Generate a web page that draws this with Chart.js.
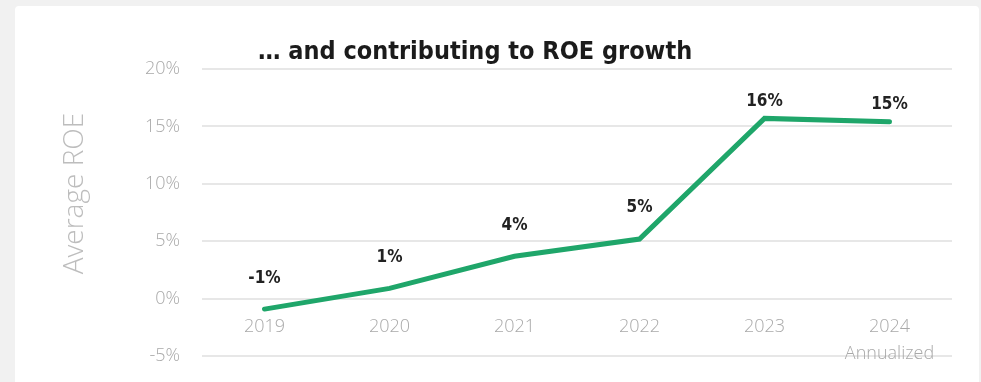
<!DOCTYPE html>
<html>
<head>
<meta charset="utf-8">
<script src="https://cdn.jsdelivr.net/npm/chart.js@4"></script>
<style>
  html, body { margin: 0; padding: 0; background: #f1f1f1; overflow: hidden; }
  #card {
    position: absolute; left: 15px; top: 6px; width: 964px; height: 400px;
    background: #fff; border-radius: 4px;
  }
  #wrap { position: absolute; left: 0; top: 0; width: 964px; height: 383px; }
</style>
</head>
<body>
<div id="card">
  <div id="wrap"><canvas id="roeChart"></canvas></div>
</div>
<script>
  var years = ["2019", "2020", "2021", "2022", "2023", ["2024", "Annualized"]];
  var avgRoe = [-0.9, 0.9, 3.7, 5.2, 15.7, 15.4];
  var yTicks = [-5, 0, 5, 10, 15, 20];

  var chartTitle = "\u2026 and contributing to ROE growth";
  var axisTitle = "Average ROE";
  var GREEN = "#1fa66a";
  var GREY_TEXT = "#a9a9a9";
  var NARROW = '"Liberation Sans Narrow", "DejaVu Sans Condensed", "Roboto Condensed", sans-serif';
  var OPEN = '"Open Sans", sans-serif';

  // headline left of centre above the plot, and the rotated y-axis caption
  var captions = {
    id: "captions",
    afterDraw: function (chart) {
      var ctx = chart.ctx, a = chart.chartArea;
      ctx.save();
      ctx.font = "bold 25px " + NARROW;
      ctx.fillStyle = "#1b1b1b";
      ctx.textAlign = "left";
      ctx.textBaseline = "alphabetic";
      ctx.fillText(chartTitle, a.left + 56, a.top - 10);

      ctx.translate(60, a.top + (a.bottom - a.top) / 2 - 19);
      ctx.rotate(-Math.PI / 2);
      ctx.font = "300 28px " + OPEN;
      ctx.fillStyle = "#bdbdbd";
      ctx.textAlign = "center";
      ctx.textBaseline = "middle";
      ctx.fillText(axisTitle, 0, 0);
      ctx.restore();
    }
  };

  // percentage labels over each point
  var pointLabels = {
    id: "pointLabels",
    afterDatasetsDraw: function (chart) {
      var ctx = chart.ctx;
      var meta = chart.getDatasetMeta(0);
      var vals = chart.data.datasets[0].data;
      ctx.save();
      ctx.font = "bold 17px " + NARROW;
      ctx.fillStyle = "#222";
      ctx.textAlign = "center";
      ctx.textBaseline = "middle";
      meta.data.forEach(function (pt, i) {
        var next = vals[i + 1];
        // labels on a rising stretch sit higher so they clear the line
        var lift = (next === undefined || next < vals[i]) ? 17 : 31;
        ctx.fillText(Math.round(vals[i]) + "%", pt.x, pt.y - lift);
      });
      ctx.restore();
    }
  };

  var ctx = document.getElementById("roeChart").getContext("2d");

  var myChart = new Chart(ctx, {
    type: "line",
    data: {
      labels: years,
      datasets: [{
        data: avgRoe,
        borderColor: GREEN,
        borderWidth: 5,
        borderCapStyle: "round",
        borderJoinStyle: "miter",
        pointRadius: 0,
        pointHoverRadius: 0,
        tension: 0,
        fill: false
      }]
    },
    options: {
      responsive: true,
      maintainAspectRatio: false,
      animation: false,
      layout: { padding: { left: 20, right: 27, top: 63, bottom: 19 } },
      plugins: {
        legend: { display: false },
        tooltip: { enabled: false }
      },
      scales: {
        x: {
          position: { y: 0 },
          offset: true,
          grid: { display: false, drawTicks: false },
          border: { display: false },
          ticks: {
            color: GREY_TEXT,
            padding: 15,
            maxRotation: 0,
            font: { family: OPEN, size: 18, weight: 300, lineHeight: 1.5 }
          }
        },
        y: {
          min: -5,
          max: 20,
          afterBuildTicks: function (scale) {
            scale.ticks = yTicks.map(function (v) { return { value: v }; });
          },
          afterFit: function (scale) { scale.width = 167; },
          grid: { color: "#e7e7e7", lineWidth: 2, drawTicks: false },
          border: { display: false },
          ticks: {
            color: GREY_TEXT,
            padding: 22,
            font: { family: OPEN, size: 18, weight: 300 },
            callback: function (v) { return v + "%"; }
          }
        }
      }
    },
    plugins: [captions, pointLabels]
  });
</script>
</body>
</html>
